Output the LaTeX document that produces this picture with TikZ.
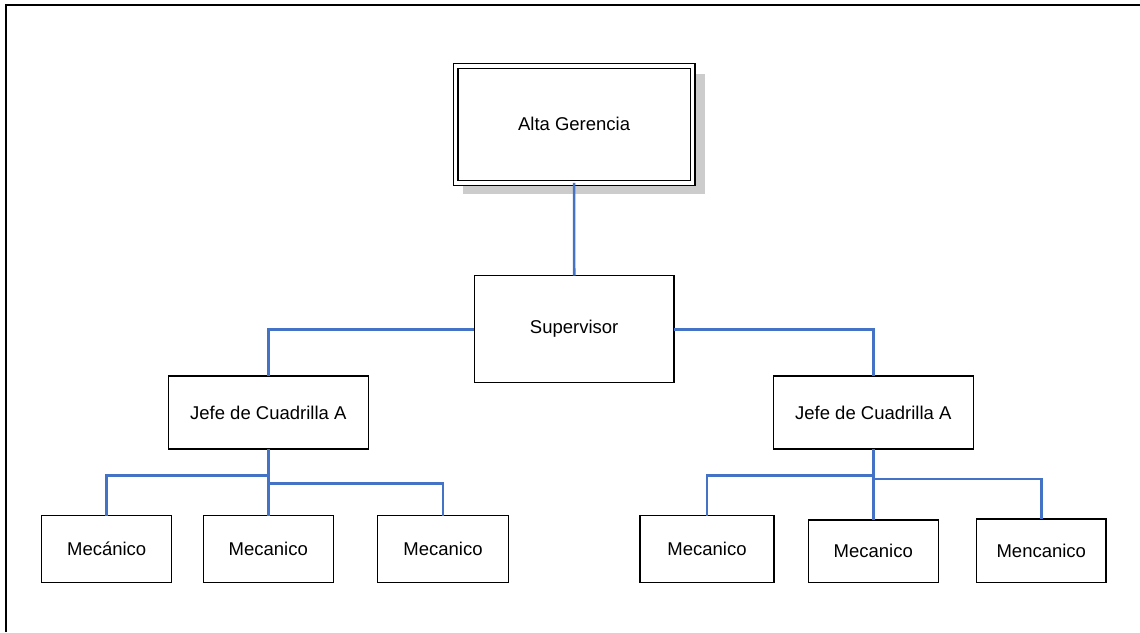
\documentclass[tikz,border=0pt]{standalone}
\usepackage{fontspec}
\setmainfont{Liberation Sans}
\definecolor{linkblue}{RGB}{68,114,196}
\definecolor{shadowgray}{RGB}{204,204,204}
\begin{document}
\begin{tikzpicture}[x=1pt,y=-1pt,
  font=\fontsize{18.5}{22}\selectfont,
  box/.style={draw=black,line width=1.5pt,rectangle,inner sep=0pt,outer sep=0pt,fill=white,align=center},
  link/.style={draw=linkblue,line width=2.6pt},
  frame/.style={draw=black,line width=2pt}]
\useasboundingbox (0,0) rectangle (1140,632);
% frame (only left and top edges visible)
\draw[frame] (6,632) -- (6,5) -- (1140,5);
% shadow of top box
\fill[shadowgray] (463,74) rectangle (705,194.3);
% nodes
\node[box,double,line width=1.3pt,double distance=3.4pt,minimum width=236.9pt,minimum height=117pt] (alta) at (574.1,124.3) {Alta Gerencia};
\node[box,minimum width=199.7pt,minimum height=107pt] (sup) at (574.2,329.2) {Supervisor};
\node[box,minimum width=200pt,minimum height=73pt] (jefeL) at (268.3,412.5) {Jefe de Cuadrilla A};
\node[box,minimum width=200pt,minimum height=73pt] (jefeR) at (873.3,412.5) {Jefe de Cuadrilla A};
\node[box,minimum width=130pt,minimum height=66.6pt] (mL1) at (106.7,549) {Mecánico};
\node[box,minimum width=130pt,minimum height=66.6pt] (mL2) at (268.3,549) {Mecanico};
\node[box,minimum width=130.6pt,minimum height=66.6pt] (mL3) at (443,549) {Mecanico};
\node[box,minimum width=134pt,minimum height=66.6pt] (mR1) at (707,549) {Mecanico};
\node[box,minimum width=130pt,minimum height=62.3pt] (mR2) at (873.3,551.2) {Mecanico};
\node[box,minimum width=129.3pt,minimum height=63.3pt] (mR3) at (1041.3,550.7) {Mencanico};
% branch points
\coordinate (bL1) at (268.3,475.7);
\coordinate (bL2) at (268.3,483.5);
\coordinate (bR1) at (873.3,475.7);
\coordinate (bR2) at (873.3,479);
% connectors
\draw[link] (alta.south) -- (sup.north);
\draw[link] (sup.west) -| (jefeL.north);
\draw[link] (sup.east) -| (jefeR.north);
\draw[link] (jefeL.south) -- (mL2.north);
\draw[link] (bL1) -| (mL1.north);
\draw[link] (bL2) -| (mL3.north);
\draw[link] (jefeR.south) -- (mR2.north);
\draw[link] (bR1) -| (mR1.north);
\draw[link] (bR2) -| (mR3.north);
\end{tikzpicture}
\end{document}
